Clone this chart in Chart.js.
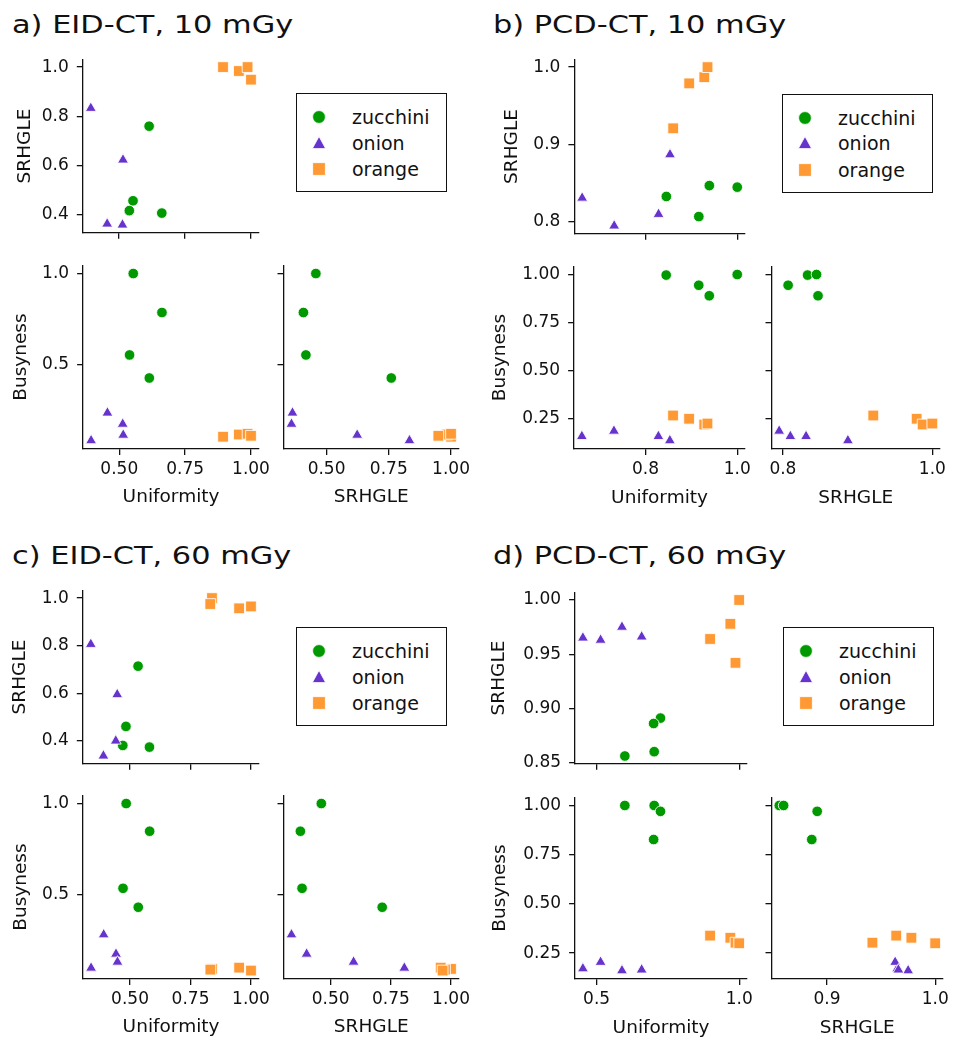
<!DOCTYPE html>
<html><head><meta charset="utf-8">
<script src="https://cdn.jsdelivr.net/npm/chart.js@4.4.1/dist/chart.umd.min.js"></script>
<style>
html,body{margin:0;padding:0;background:#fff;}
body{width:969px;height:1050px;position:relative;overflow:hidden;font-family:"DejaVu Sans",sans-serif;color:#111;}
.ttl{position:absolute;font-size:24px;line-height:28px;white-space:nowrap;transform:scaleX(1.266);transform-origin:0 0;color:#111;}
.leg{position:absolute;width:151px;height:99px;border:1.5px solid #111;box-sizing:border-box;background:#fff;}
.leg .row{position:absolute;left:0;height:26px;width:100%;}
.leg svg{position:absolute;left:12px;top:3px;}
.leg span{position:absolute;left:55px;top:0;line-height:26px;font-size:19px;color:#111;}
canvas{position:absolute;}
</style>
</head><body>
<script>
// ---------------- DATA ----------------
const groups = ['zucchini', 'onion', 'orange'];
const sampleGroup = ['zucchini','zucchini','zucchini','zucchini','onion','onion','onion','onion','orange','orange','orange','orange'];

// a) EID-CT, 10 mGy
const eid10Uniformity = [0.553,0.662,0.539,0.614, 0.393,0.455,0.513,0.515, 0.894,0.954,0.987,1.000];
const eid10SRHGLE     = [0.457,0.407,0.417,0.760, 0.833,0.363,0.359,0.623, 1.000,0.984,1.000,0.949];
const eid10Busyness   = [1.000,0.787,0.555,0.429, 0.087,0.238,0.177,0.117, 0.108,0.120,0.124,0.113];
// b) PCD-CT, 10 mGy
const pcd10Uniformity = [0.845,0.916,0.939,1.000, 0.661,0.731,0.828,0.853, 0.860,0.895,0.928,0.935];
const pcd10SRHGLE     = [0.833,0.807,0.847,0.845, 0.831,0.795,0.810,0.887, 0.921,0.979,0.987,1.000];
const pcd10Busyness   = [0.997,0.944,0.889,1.000, 0.155,0.183,0.155,0.133, 0.264,0.247,0.217,0.222];
// c) EID-CT, 60 mGy
const eid60Uniformity = [0.484,0.581,0.471,0.534, 0.339,0.391,0.442,0.448, 0.839,0.832,0.951,1.000];
const eid60SRHGLE     = [0.461,0.374,0.381,0.714, 0.806,0.337,0.400,0.595, 1.000,0.975,0.957,0.965];
const eid60Busyness   = [1.000,0.848,0.534,0.430, 0.096,0.279,0.173,0.129, 0.091,0.087,0.098,0.082];
// d) PCD-CT, 60 mGy
const pcd60Uniformity = [0.599,0.702,0.724,0.700, 0.452,0.514,0.589,0.658, 0.898,0.969,0.987,1.000];
const pcd60SRHGLE     = [0.856,0.860,0.891,0.886, 0.965,0.963,0.975,0.966, 0.964,0.978,0.942,1.000];
const pcd60Busyness   = [1.000,1.000,0.970,0.827, 0.171,0.204,0.161,0.165, 0.339,0.328,0.303,0.300];

// tick labels
const eid10UniformityTicks = ['0.50','0.75','1.00'];
const eid10SRHGLETicksY    = ['0.4','0.6','0.8','1.0'];
const eid10SRHGLETicksX    = ['0.50','0.75','1.00'];
const eid10BusynessTicks   = ['0.5','1.0'];
const pcd10UniformityTicks = ['0.8','1.0'];
const pcd10SRHGLETicksY    = ['0.8','0.9','1.0'];
const pcd10SRHGLETicksX    = ['0.8','1.0'];
const pcd10BusynessTicks   = ['0.25','0.50','0.75','1.00'];
const eid60UniformityTicks = ['0.50','0.75','1.00'];
const eid60SRHGLETicksY    = ['0.4','0.6','0.8','1.0'];
const eid60SRHGLETicksX    = ['0.50','0.75','1.00'];
const eid60BusynessTicks   = ['0.5','1.0'];
const pcd60UniformityTicks = ['0.5','1.0'];
const pcd60SRHGLETicksY    = ['0.85','0.90','0.95','1.00'];
const pcd60SRHGLETicksX    = ['0.9','1.0'];
const pcd60BusynessTicks   = ['0.25','0.50','0.75','1.00'];

const panelTitles = ['a) EID-CT, 10 mGy','b) PCD-CT, 10 mGy','c) EID-CT, 60 mGy','d) PCD-CT, 60 mGy'];

// ---------------- STYLE ----------------
const groupColor  = {zucchini:'#009900', onion:'#6633cc', orange:'#ff9933'};
const groupStyle  = {zucchini:'circle', onion:'triangle', orange:'rect'};
const groupRadius = {zucchini:5.3, onion:6.3, orange:7.6};
const INK = '#111111';
const FONT = '"DejaVu Sans", sans-serif';
const TICK_SIZE = 17, TITLE_SIZE = 18.5;
const TITLE_LH = TITLE_SIZE * 1.2;

function limits(arr){
  const mn = Math.min(...arr), mx = Math.max(...arr), m = (mx - mn) * 0.05;
  return [mn - m, mx + m];
}

function makeDatasets(xs, ys){
  return groups.map((g, gi) => ({
    label: g,
    data: xs.map((x, i) => ({x, y: ys[i], g: sampleGroup[i]})).filter(p => p.g === g).map(p => ({x:p.x, y:p.y})),
    pointStyle: groupStyle[g],
    pointRadius: groupRadius[g],
    backgroundColor: groupColor[g],
    borderColor: 'rgba(255,255,255,0.95)',
    borderWidth: 0.9,
    order: 2 - gi,
    clip: false
  }));
}

function axisCfg(lim, labels, showLabels, title, padding, fitFn){
  const vals = labels.map(parseFloat);
  return {
    type: 'linear', min: lim[0], max: lim[1],
    afterBuildTicks: s => { s.ticks = vals.map(v => ({value: v})); },
    afterFit: fitFn,
    ticks: {
      autoSkip: false, maxRotation: 0, minRotation: 0, padding: padding,
      color: INK, font: {family: FONT, size: TICK_SIZE},
      callback: (v) => {
        if (!showLabels) return '';
        const k = vals.findIndex(t => Math.abs(t - v) < 1e-9);
        return k >= 0 ? labels[k] : '';
      }
    },
    grid: {display: true, drawOnChartArea: false, drawTicks: true, tickLength: 6, color: INK, lineWidth: 1.3},
    border: {display: true, color: INK, width: 1.3},
    title: {display: !!title, text: title || '', color: INK, font: {family: FONT, size: TITLE_SIZE}, padding: 0}
  };
}

function makePlot(p){
  const padTop = 14, padRight = 28;
  const [L, T, R, B] = p.box;
  const Wy = p.yTitle ? (L - (p.yTitleX - TITLE_LH / 2)) : 8;
  const Hx = p.xTitle ? (p.xTitleY - B + TITLE_LH / 2) : 8;
  const cw = Math.round(Wy + (R - L) + padRight);
  const ch = Math.round(padTop + (B - T) + Hx);
  const cv = document.createElement('canvas');
  cv.width = cw; cv.height = ch;
  cv.style.width = cw + 'px'; cv.style.height = ch + 'px';
  cv.style.left = (L - Wy) + 'px'; cv.style.top = (T - padTop) + 'px';
  document.body.appendChild(cv);
  new Chart(cv.getContext('2d'), {
    type: 'scatter',
    data: {datasets: makeDatasets(p.xs, p.ys)},
    options: {
      responsive: false, animation: false, events: [],
      layout: {padding: {top: padTop, right: padRight, left: 0, bottom: 0}},
      plugins: {legend: {display: false}, tooltip: {enabled: false}, title: {display: false}},
      scales: {
        x: axisCfg(p.xLim, p.xTicks, p.showX, p.xTitle, 4, s => { s.height = Hx; }),
        y: axisCfg(p.yLim, p.yTicks, p.showY, p.yTitle, 8, s => { s.width = Wy; })
      }
    }
  });
}

function addTitle(text, x, baseline){
  const d = document.createElement('div');
  d.className = 'ttl'; d.textContent = text;
  d.style.left = x + 'px'; d.style.top = (baseline - 22.3) + 'px';
  document.body.appendChild(d);
}

function markerSvg(g){
  const c = groupColor[g];
  let shape;
  if (g === 'zucchini') shape = `<circle cx="10" cy="10" r="6.4" fill="${c}" stroke="#fff" stroke-width="0.8"/>`;
  else if (g === 'onion') shape = `<polygon points="10,3.4 16.6,15.6 3.4,15.6" fill="${c}" stroke="#fff" stroke-width="0.8"/>`;
  else shape = `<rect x="3.7" y="3.7" width="12.6" height="12.6" fill="${c}" stroke="#fff" stroke-width="0.8"/>`;
  return `<svg width="20" height="20" viewBox="0 0 20 20">${shape}</svg>`;
}

function addLegend(x, y){
  const d = document.createElement('div');
  d.className = 'leg';
  d.style.left = x + 'px'; d.style.top = y + 'px';
  const rowsTop = [10, 35.5, 62];
  groups.forEach((g, i) => {
    const r = document.createElement('div');
    r.className = 'row'; r.style.top = rowsTop[i] + 'px';
    r.innerHTML = markerSvg(g) + `<span>${g}</span>`;
    d.appendChild(r);
  });
  document.body.appendChild(d);
}

// ---------------- LAYOUT ----------------
const panels = [
  {title: panelTitles[0], tx: 11.7, tb: 33, U: eid10Uniformity, S: eid10SRHGLE, Bz: eid10Busyness,
   uT: eid10UniformityTicks, sTy: eid10SRHGLETicksY, sTx: eid10SRHGLETicksX, bT: eid10BusynessTicks,
   tl: [82.7, 55, 258.7, 243.3], bl: [82.7, 260.7, 259, 449], br: [283.3, 260.7, 459.3, 449],
   tlYT: 25, blYT: 20.7, xTY: 497, leg: [296, 93]},
  {title: panelTitles[1], tx: 493, tb: 33, U: pcd10Uniformity, S: pcd10SRHGLE, Bz: pcd10Busyness,
   uT: pcd10UniformityTicks, sTy: pcd10SRHGLETicksY, sTx: pcd10SRHGLETicksX, bT: pcd10BusynessTicks,
   tl: [574, 55, 745, 244], bl: [574, 261.7, 745, 449], br: [770.7, 261.7, 940, 449],
   tlYT: 511.7, blYT: 500, xTY: 498, leg: [782, 93.5]},
  {title: panelTitles[2], tx: 11.7, tb: 564, U: eid60Uniformity, S: eid60SRHGLE, Bz: eid60Busyness,
   uT: eid60UniformityTicks, sTy: eid60SRHGLETicksY, sTx: eid60SRHGLETicksX, bT: eid60BusynessTicks,
   tl: [82.7, 585.7, 259, 774], bl: [82.7, 790.7, 259, 979], br: [283.3, 790.7, 459.3, 979],
   tlYT: 20, blYT: 20.7, xTY: 1027, leg: [296, 627]},
  {title: panelTitles[3], tx: 493, tb: 564, U: pcd60Uniformity, S: pcd60SRHGLE, Bz: pcd60Busyness,
   uT: pcd60UniformityTicks, sTy: pcd60SRHGLETicksY, sTx: pcd60SRHGLETicksX, bT: pcd60BusynessTicks,
   tl: [575, 588, 746.7, 773.7], bl: [575, 793, 746.7, 979], br: [771, 793, 942.7, 979],
   tlYT: 499, blYT: 500, xTY: 1028, leg: [783, 627]}
];

panels.forEach(P => {
  const uLim = limits(P.U), sLim = limits(P.S), bLim = limits(P.Bz);
  addTitle(P.title, P.tx, P.tb);
  makePlot({box: P.tl, xs: P.U, ys: P.S, xLim: uLim, yLim: sLim, xTicks: P.uT, yTicks: P.sTy,
            showX: false, showY: true, xTitle: null, yTitle: 'SRHGLE', yTitleX: P.tlYT});
  makePlot({box: P.bl, xs: P.U, ys: P.Bz, xLim: uLim, yLim: bLim, xTicks: P.uT, yTicks: P.bT,
            showX: true, showY: true, xTitle: 'Uniformity', xTitleY: P.xTY, yTitle: 'Busyness', yTitleX: P.blYT});
  makePlot({box: P.br, xs: P.S, ys: P.Bz, xLim: sLim, yLim: bLim, xTicks: P.sTx, yTicks: P.bT,
            showX: true, showY: false, xTitle: 'SRHGLE', xTitleY: P.xTY, yTitle: null});
  addLegend(P.leg[0], P.leg[1]);
});
</script>
</body></html>
